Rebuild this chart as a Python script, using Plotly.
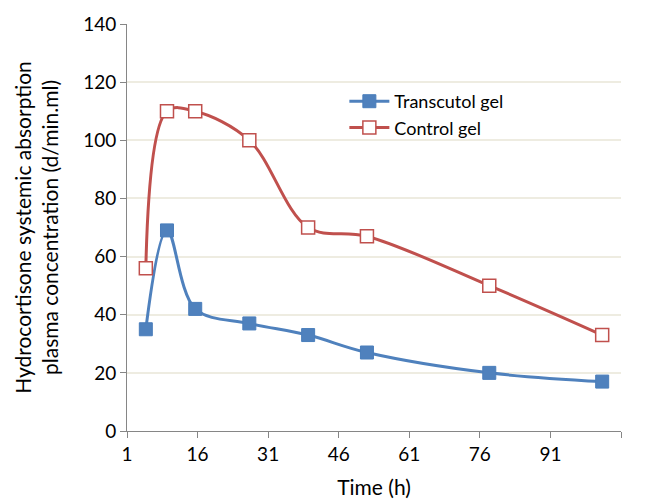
import plotly.graph_objects as go

time_h = [5, 9.5, 15.5, 27, 39.5, 52, 78, 102]
transcutol = [35, 69, 42, 37, 33, 27, 20, 17]
control = [56, 110, 110, 100, 70, 67, 50, 33]

x_tickvals = [1, 16, 31, 46, 61, 76, 91, 106]
x_ticktext = ["1", "16", "31", "46", "61", "76", "91", ""]
y_tickvals = [0, 20, 40, 60, 80, 100, 120, 140]

FONT = "Lato, 'Open Sans', sans-serif"

fig = go.Figure()
fig.add_trace(go.Scatter(
    x=time_h, y=transcutol, name="Transcutol gel", mode="lines+markers",
    line=dict(color="#4F81BD", width=3, shape="spline", smoothing=1),
    marker=dict(symbol="square", size=13, color="#4F81BD", line=dict(color="#4A7EBB", width=1)),
))
fig.add_trace(go.Scatter(
    x=time_h, y=control, name="Control gel", mode="lines+markers",
    line=dict(color="#C0504D", width=3, shape="spline", smoothing=1),
    marker=dict(symbol="square", size=13, color="white", line=dict(color="#C0504D", width=1.5)),
))

fig.update_layout(
    width=648, height=501,
    margin=dict(l=119, r=35, t=16, b=78, autoexpand=False),
    paper_bgcolor="white", plot_bgcolor="white",
    font=dict(family=FONT, size=19, color="black"),
    showlegend=True,
    legend=dict(x=0.44, y=0.855, xanchor="left", yanchor="top",
                bgcolor="rgba(0,0,0,0)", font=dict(size=18, family=FONT, color="black"),
                tracegroupgap=0, itemwidth=40),
)
fig.update_xaxes(
    range=[1, 106], tickmode="array", tickvals=x_tickvals, ticktext=x_ticktext,
    showgrid=False, zeroline=False, showline=True, linecolor="#868686", linewidth=1,
    ticks="outside", ticklen=6, tickcolor="#868686", automargin=False,
    title=dict(text="Time (h)", font=dict(size=21, family=FONT), standoff=16),
    tickfont=dict(size=19, family=FONT),
)
fig.update_yaxes(
    range=[0, 140], tickmode="array", tickvals=y_tickvals,
    showgrid=True, gridcolor="#EEECE1", gridwidth=1.5, zeroline=False,
    showline=True, linecolor="#868686", linewidth=1,
    ticks="outside", ticklen=6, tickcolor="#868686", automargin=False,
    title=dict(text="Hydrocortisone systemic absorption<br>plasma concentration (d/min.ml)",
               font=dict(size=21, family=FONT), standoff=18),
    tickfont=dict(size=19, family=FONT),
)

fig.write_html("out.html")
